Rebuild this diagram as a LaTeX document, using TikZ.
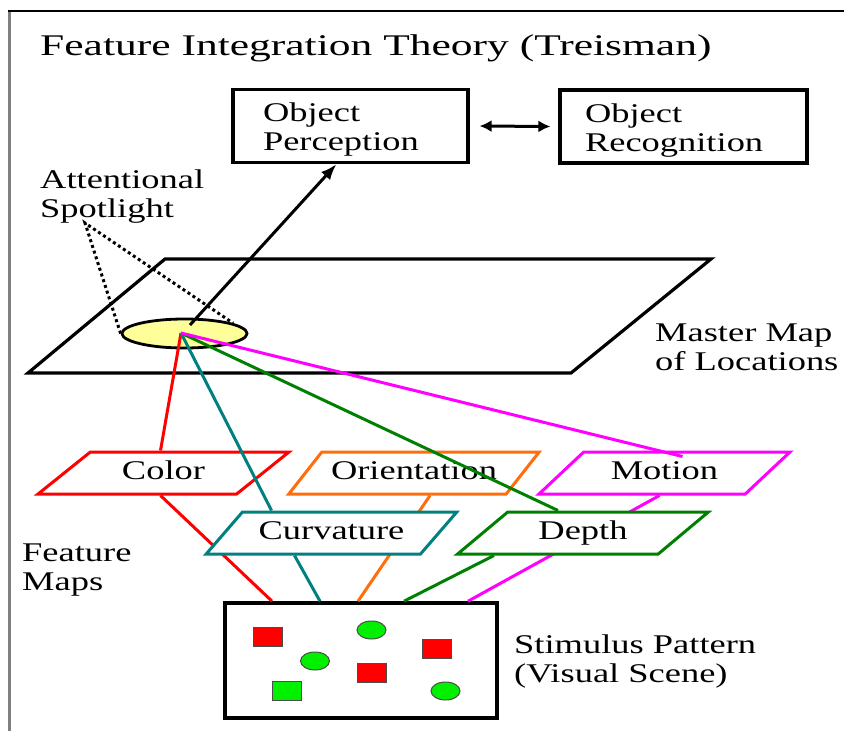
\documentclass[tikz,border=0pt]{standalone}
\usepackage{fontspec}
\setmainfont{Liberation Serif}[FakeStretch=1.35]
\newfontfamily\titlefont{Liberation Serif}[FakeStretch=1.45]
\usetikzlibrary{shapes.geometric,arrows.meta}

\definecolor{mapred}{RGB}{255,0,0}
\definecolor{maporange}{RGB}{255,110,10}
\definecolor{mapteal}{RGB}{0,128,128}
\definecolor{mapgreen}{RGB}{0,128,0}
\definecolor{mapmagenta}{RGB}{255,0,255}
\definecolor{spotyellow}{RGB}{255,255,153}
\definecolor{dotgreen}{RGB}{0,240,0}

\tikzset{
  lbl/.style={font=\fontsize{27}{29}\selectfont, align=left, inner sep=0pt},
  objbox/.style={draw, line width=3.2pt, minimum height=73, inner ysep=0pt, inner xsep=0pt,
    font=\fontsize{27}{29}\selectfont, align=left},
  featmap/.style={draw=#1, fill=white, line width=3pt, trapezium,
    trapezium left angle=41.2, trapezium right angle=138.8, trapezium stretches=true,
    minimum width=251, minimum height=42, inner sep=0pt, text height=19pt, text depth=7pt,
    font=\fontsize{27}{29}\selectfont},
  wire/.style={draw=#1, line width=3pt},
  sq/.style={draw=black!70, line width=1pt, minimum width=29, minimum height=19, inner sep=0pt},
  dot/.style={ellipse, draw=black!70, fill=dotgreen, line width=1pt, minimum width=29,
    minimum height=18, inner sep=0pt}
}

\begin{document}
\begin{tikzpicture}[x=1pt, y=-1pt]
\useasboundingbox (0,0) rectangle (844,731);
% frame
\draw[gray, line width=3.5pt] (9.5,10) -- (9.5,731);
\draw[line width=2pt] (8,10.5) -- (844,10.5);

\node[anchor=base west, inner sep=0pt, font=\titlefont\fontsize{30}{32}\selectfont] (title) at (40,55)
   {Feature Integration Theory (Treisman)};

\node[objbox, minimum width=235, text width=175] (perc) at (350.5,126) {\rule{0pt}{26pt}Object\\Perception};
\node[objbox, minimum width=247, text width=197] (recog) at (683.5,126.5) {\rule{0pt}{26pt}Object\\Recognition};
\draw[line width=3pt, {Latex[length=12pt,width=12pt]}-{Latex[length=12pt,width=12pt]}]
   ([xshift=10]perc.east) -- ([xshift=-8]recog.west);

% master map and spotlight
\draw[line width=3.2pt] (165,259) -- (711,259) -- (571,373) -- (28,373) -- cycle;
\node[lbl, anchor=base west] (master) at (655,370) {Master Map\\of Locations};
\node[ellipse, draw, fill=spotyellow, line width=2.8pt, minimum width=125, minimum height=29,
   inner sep=0pt] (spot) at (184.5,333.5) {};
\coordinate (focus) at (181,333);
\coordinate (beam) at (190,325);
\coordinate (sptip) at (85,223);
\node[lbl, anchor=base west] (attn) at (40,217) {Attentional\\Spotlight};
\draw[line width=3pt, dash pattern=on 3pt off 3pt] (spot.west) -- (sptip) -- (spot.12);
\draw[line width=3pt, -{Latex[length=16pt,width=12pt]}] (beam) -- ([xshift=-14]perc.south);

% stimulus pattern
\node[draw, line width=3.6pt, minimum width=272, minimum height=115, inner sep=0pt] (stim) at (361,660.5) {};
\node[lbl, anchor=base west] (stimtxt) at (514,682) {Stimulus Pattern\\(Visual Scene)};
\node[sq, fill=mapred] (s1) at (267.5,636.5) {};
\node[dot] (d1) at (371.5,630) {};
\node[sq, fill=mapred] (s2) at (436.5,648.5) {};
\node[dot] (d2) at (315,661) {};
\node[sq, fill=mapred] (s3) at (371.5,672.5) {};
\node[sq, fill=dotgreen] (s4) at (287,691) {};
\node[dot] (d3) at (445.5,691) {};

% feature maps -> stimulus
\node[featmap=mapred] (color) at (163.5,473) {Color};
\node[featmap=maporange] (orient) at (414,473) {Orientation};
\node[featmap=mapmagenta] (motion) at (664.5,473) {Motion};
\draw[wire=mapred] ([xshift=-3]color.south) -- ([xshift=-89]stim.north);
\draw[wire=maporange] ([xshift=16]orient.south) -- ([xshift=-3]stim.north);
\draw[wire=mapmagenta] ([xshift=-5]motion.south) -- ([xshift=107]stim.north);
\node[featmap=mapteal] (curv) at (331.5,533) {Curvature};
\node[featmap=mapgreen] (depth) at (583,533) {Depth};
\draw[wire=mapteal] ([xshift=-37]curv.south) -- ([xshift=-41]stim.north);
\draw[wire=mapgreen] ([xshift=-89]depth.south) -- ([xshift=43]stim.north);
\node[lbl, anchor=base west] (feat) at (22,590) {Feature\\Maps};

% spotlight -> feature maps
\draw[wire=mapred] (focus) -- ([xshift=-3]color.north);
\draw[wire=mapteal] (focus) -- ([xshift=-60]curv.north);
\draw[wire=mapgreen] (focus) -- ([xshift=-25]depth.north);
\draw[wire=mapmagenta] (focus) -- ([xshift=18,yshift=-6]motion.north);
\end{tikzpicture}
\end{document}
